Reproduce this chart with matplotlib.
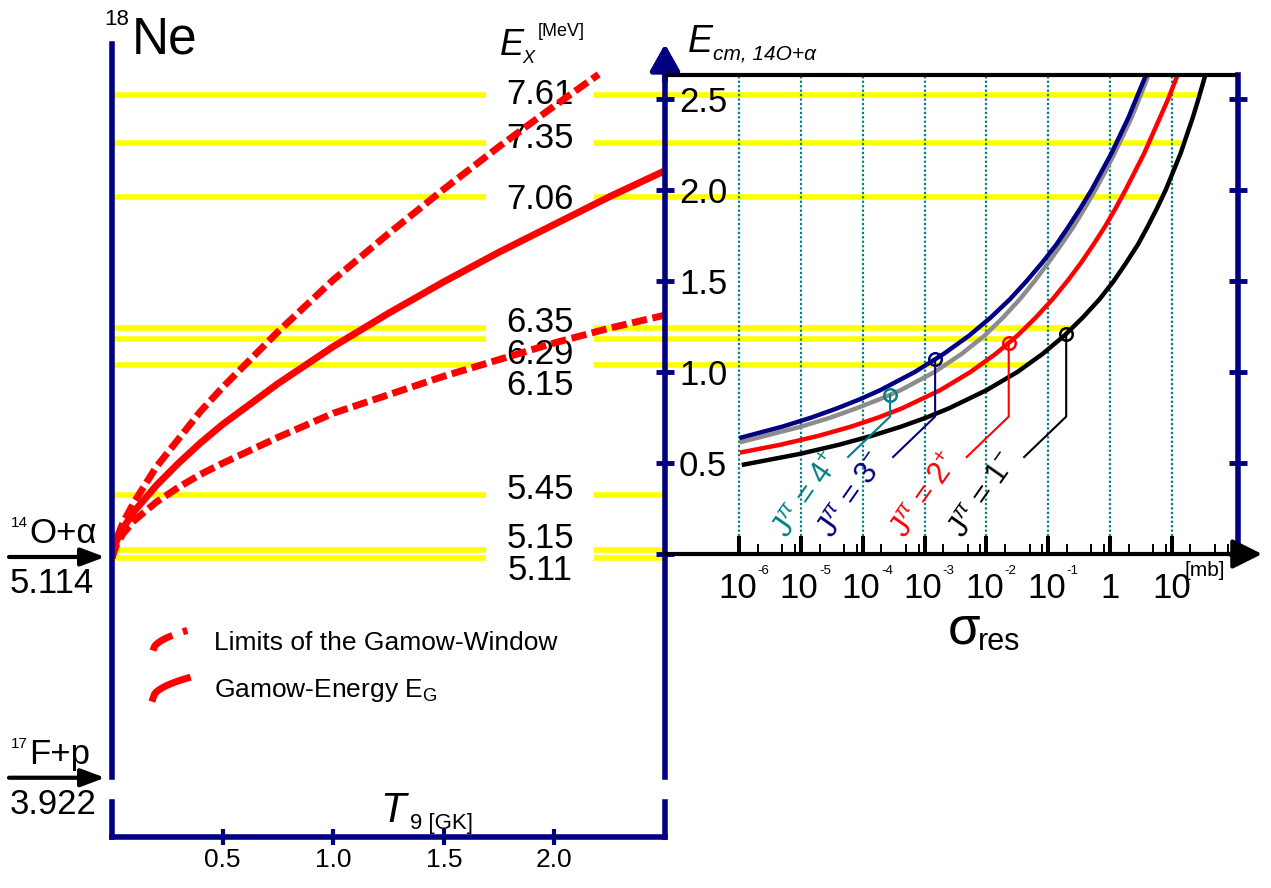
import numpy as np
import matplotlib
matplotlib.use("Agg")
import matplotlib.pyplot as plt
from matplotlib import transforms
from matplotlib.lines import Line2D
from matplotlib.legend_handler import HandlerBase

# ---------------------------------------------------------------- data
# 18Ne excitation energies (MeV)
levels = [7.61, 7.35, 7.06, 6.35, 6.29, 6.15, 5.45, 5.15, 5.11]
# resonance curve that limits each level line in the cross-section panel
level_end_curve = ['1-', '1-', '1-', '1-', '2+', '1-', None, None, None]
alpha_threshold = 5.114   # 14O + alpha
proton_threshold = 3.922  # 17F + p

# Gamow energy and Gamow-window limits versus temperature
t9 = [0, 0.02, 0.05, 0.1, 0.2, 0.3, 0.4, 0.5, 0.75, 1.0, 1.25, 1.5, 1.75, 2.0, 2.25, 2.5]
ex_gamow = [5.11, 5.20, 5.27, 5.36, 5.50, 5.62, 5.73, 5.83, 6.05, 6.25, 6.43, 6.60, 6.76, 6.91, 7.06, 7.20]
ex_lower = [5.11, 5.18, 5.24, 5.31, 5.41, 5.49, 5.56, 5.62, 5.76, 5.89, 5.99, 6.09, 6.18, 6.27, 6.35, 6.42]
t9_upper = [0, 0.02, 0.05, 0.1, 0.2, 0.3, 0.4, 0.5, 0.75, 1.0, 1.25, 1.5, 1.75, 2.0, 2.2]
ex_upper = [5.11, 5.21, 5.30, 5.41, 5.60, 5.75, 5.90, 6.03, 6.33, 6.61, 6.86, 7.10, 7.33, 7.55, 7.72]

# resonant cross sections: E_cm (MeV) and log10(sigma / mb)
e_1m = [0.489, 0.55, 0.60, 0.65, 0.70, 0.75, 0.80, 0.90, 1.0, 1.1, 1.2, 1.3, 1.4,
        1.5, 1.6, 1.7, 1.8, 1.9, 2.0, 2.1, 2.2, 2.3, 2.4, 2.5, 2.63]
lg_sigma_1m = [-5.96, -5.02, -4.39, -3.85, -3.38, -2.97, -2.61, -2.00, -1.50, -1.09,
               -0.74, -0.44, -0.17, 0.06, 0.26, 0.45, 0.61, 0.76, 0.90, 1.02, 1.14,
               1.24, 1.34, 1.43, 1.54]
e_2p = [0.557, 0.60, 0.65, 0.70, 0.75, 0.80, 0.90, 1.0, 1.1, 1.2, 1.3, 1.4, 1.5,
        1.6, 1.7, 1.8, 1.9, 2.0, 2.1, 2.2, 2.3, 2.4, 2.5, 2.63]
lg_sigma_2p = [-5.99, -5.34, -4.71, -4.19, -3.75, -3.37, -2.75, -2.26, -1.85, -1.50,
               -1.20, -0.93, -0.69, -0.47, -0.27, -0.08, 0.09, 0.25, 0.40, 0.55,
               0.68, 0.81, 0.94, 1.09]
e_3m = [0.637, 0.70, 0.75, 0.80, 0.85, 0.90, 1.0, 1.1, 1.2, 1.3, 1.4, 1.5, 1.6,
        1.7, 1.8, 1.9, 2.0, 2.1, 2.2, 2.3, 2.4, 2.5, 2.63]
lg_sigma_3m = [-6.00, -5.30, -4.83, -4.42, -4.05, -3.72, -3.16, -2.69, -2.28, -1.93,
               -1.62, -1.35, -1.10, -0.87, -0.67, -0.48, -0.30, -0.14, 0.02, 0.16,
               0.30, 0.42, 0.58]
e_4p = [0.613, 0.65, 0.70, 0.75, 0.80, 0.85, 0.90, 1.0, 1.1, 1.2, 1.3, 1.4, 1.5,
        1.6, 1.7, 1.8, 1.9, 2.0, 2.1, 2.2, 2.3, 2.4, 2.5, 2.63]
lg_sigma_4p = [-6.00, -5.57, -5.00, -4.52, -4.11, -3.73, -3.39, -2.84, -2.40, -2.03,
               -1.73, -1.46, -1.22, -1.00, -0.79, -0.59, -0.41, -0.24, -0.08, 0.07,
               0.21, 0.35, 0.47, 0.62]

# marked resonance energies (E_cm, MeV) on each curve
e_mark_4p, e_mark_3m, e_mark_2p, e_mark_1m = 0.875, 1.07, 1.16, 1.21
e_cm_max = 2.63

# ticks
t9_ticks = [0.5, 1.0, 1.5, 2.0]
ecm_ticks = [0, 0.5, 1.0, 1.5, 2.0, 2.5]
sigma_decades = [1e-6, 1e-5, 1e-4, 1e-3, 1e-2, 1e-1, 1, 10]
sigma_minor = [m * d for d in sigma_decades for m in (2, 5, 8)]

# ---------------------------------------------------------------- style
NAVY = '#000080'
TEAL = '#008080'
YELLOW = '#ffff00'
RED = '#ff0000'
GRAY = '#8c8c8c'

SANS = 'Liberation Sans'
plt.rcParams['font.family'] = [SANS, 'DejaVu Sans']
plt.rcParams['mathtext.fontset'] = 'custom'
plt.rcParams['mathtext.rm'] = SANS
plt.rcParams['mathtext.it'] = SANS + ':italic'
plt.rcParams['mathtext.bf'] = SANS + ':bold'
plt.rcParams['mathtext.sf'] = SANS

W, H, DPI = 1271, 888, 100
fig = plt.figure(figsize=(W / DPI, H / DPI), dpi=DPI)


def fx(px):
    return px / W


def fy(py):
    return 1 - py / H


def pt(px):
    return px * 72 / DPI


def ftext(px, py, s, **kw):
    kw.setdefault('va', 'baseline')
    return fig.text(fx(px), fy(py), s, **kw)


# panel frames (pixel layout)
L_X0, L_X1, R_X1 = 112, 665, 1238
TOP_L, TOP_R, BOT = 44, 60, 777
T_Y0, T_Y1 = 802, 837

ax_L = fig.add_axes([fx(L_X0), fy(BOT), fx(L_X1) - fx(L_X0), fy(TOP_L) - fy(BOT)])
ax_T = fig.add_axes([fx(L_X0), fy(T_Y1), fx(L_X1) - fx(L_X0), fy(T_Y0) - fy(T_Y1)])
ax_R = fig.add_axes([fx(L_X1), fy(BOT), fx(R_X1) - fx(L_X1), fy(TOP_R) - fy(BOT)])
for ax in (ax_L, ax_T, ax_R):
    ax.patch.set_visible(False)

ex_lim = (3.926, 7.884)
sig_lim = (10 ** -7.202, 10 ** 2.07)
ecm_lim = (-1.2253, 2.7143)

# ---------------------------------------------------------------- left panel: level scheme
ax_L.set_xlim(0, 2.5)
ax_L.set_ylim(*ex_lim)
for s in ('top', 'right', 'bottom'):
    ax_L.spines[s].set_visible(False)
ax_L.spines['left'].set_color(NAVY)
ax_L.spines['left'].set_linewidth(4)
ax_L.spines['left'].set_zorder(5)
ax_L.set_xticks([])
ax_L.set_yticks([])

LABEL_T9, GAP = 1.935, 0.245
ax_L.hlines(levels, 0, LABEL_T9 - GAP, colors=YELLOW, lw=4, zorder=1)
ax_L.hlines(levels, LABEL_T9 + GAP, 2.5, colors=YELLOW, lw=4, zorder=1)

# label centre relative to its line, pixels downwards
level_label_shift = [-3, -7, 0, -9, 12, 17, -8, -15, 10]
for v, sh in zip(levels, level_label_shift):
    ax_L.annotate(f'{v:.2f}', xy=(LABEL_T9, v), xytext=(0, -pt(sh + 12.5)),
                  textcoords='offset points', ha='center', va='baseline',
                  fontsize=25)

ax_L.plot(t9, ex_gamow, color=RED, lw=5, zorder=3, solid_capstyle='butt')
ax_L.plot(t9_upper, ex_upper, color=RED, lw=5, ls=(0, (2.2, 0.8)), zorder=3)
ax_L.plot(t9, ex_lower, color=RED, lw=5, ls=(0, (2.2, 0.8)), zorder=3)

# particle thresholds
for e, sup, name in ((alpha_threshold, '14', 'O+\u03b1'),
                     (proton_threshold, '17', 'F+p')):
    ax_L.annotate('', xy=(0, e), xytext=(fx(9), e),
                  textcoords=('figure fraction', 'data'),
                  arrowprops=dict(arrowstyle='-|>,head_length=0.8,head_width=0.3',
                                  mutation_scale=18, lw=3, color='k',
                                  shrinkA=0, shrinkB=pt(7)),
                  annotation_clip=False)
    ax_L.annotate(sup, xy=(fx(28), e), xycoords=('figure fraction', 'data'),
                  xytext=(0, pt(30)), textcoords='offset points',
                  ha='right', va='baseline', fontsize=11, annotation_clip=False)
    ax_L.annotate(name, xy=(fx(29), e), xycoords=('figure fraction', 'data'),
                  xytext=(0, pt(14)), textcoords='offset points',
                  ha='left', va='baseline', fontsize=25, annotation_clip=False)
    ax_L.annotate(f'{e:.3f}', xy=(fx(10), e), xycoords=('figure fraction', 'data'),
                  xytext=(0, -pt(36)), textcoords='offset points',
                  ha='left', va='baseline', fontsize=25, annotation_clip=False)


class HandlerArc(HandlerBase):
    def create_artists(self, legend, orig_handle, xdescent, ydescent,
                       width, height, fontsize, trans):
        s = np.linspace(0, 1, 25)
        xs = -xdescent + width * s
        ys = -ydescent + height * (0.02 + 0.96 * np.sqrt(s))
        ln = Line2D(xs, ys, color=orig_handle.get_color(),
                    lw=orig_handle.get_linewidth(),
                    ls=orig_handle.get_linestyle(), transform=trans)
        return [ln]


h_win = Line2D([], [], color=RED, lw=5, ls=(0, (2.2, 0.8)))
h_gam = Line2D([], [], color=RED, lw=5)
ax_L.legend([h_win, h_gam],
            ['Limits of the Gamow-Window', 'Gamow-Energy E$_{\\mathrm{G}}$'],
            handler_map={Line2D: HandlerArc()},
            loc='upper left', bbox_to_anchor=(fx(153), fy(630)),
            bbox_transform=fig.transFigure, frameon=False,
            prop=dict(family=SANS, size=19), handlelength=1.3, handleheight=0.85,
            handletextpad=1.0, labelspacing=0.86, borderpad=0, borderaxespad=0)

ftext(129, 25, '18', ha='right', fontsize=16)
ftext(132, 53, 'Ne', ha='left', fontsize=37)
ftext(500, 55, 'E', style='italic', fontsize=26)
ftext(522, 63, 'X', style='italic', fontsize=13)
ftext(538, 36, '[MeV]', fontsize=13)

# ---------------------------------------------------------------- temperature axis
ax_T.set_xlim(0, 2.5)
ax_T.set_ylim(0, 1)
ax_T.spines['top'].set_visible(False)
for s in ('left', 'right', 'bottom'):
    ax_T.spines[s].set_color(NAVY)
    ax_T.spines[s].set_linewidth(4)
ax_T.set_yticks([])
ax_T.set_xticks(t9_ticks)
ax_T.set_xticklabels([f'{v:.1f}' for v in t9_ticks], fontsize=19)
ax_T.tick_params(axis='x', direction='inout', length=12, width=3, color=NAVY, pad=2)
ftext(380, 822, 'T', style='italic', fontsize=30)
ftext(410, 829, '9 [GK]', fontsize=16)

# ---------------------------------------------------------------- right panel: cross sections
ax_R.set_xscale('log')
ax_R.set_xlim(*sig_lim)
ax_R.set_ylim(*ecm_lim)
ax_R.spines['top'].set_visible(False)
ax_R.spines['left'].set_color(NAVY)
ax_R.spines['left'].set_linewidth(4)
ax_R.spines['right'].set_color(NAVY)
ax_R.spines['right'].set_linewidth(4)
ax_R.spines['right'].set_bounds(0, e_cm_max)
ax_R.spines['bottom'].set_position(('data', 0))
ax_R.spines['bottom'].set_color('k')
ax_R.spines['bottom'].set_linewidth(3)

ax_R.vlines(sigma_decades, 0, e_cm_max, colors=TEAL, linestyles=(0, (1, 1)),
            lw=1.6, zorder=1.5)
ax_R.axhline(e_cm_max, color='k', lw=3, zorder=5)

curves = {
    '1-': (e_1m, lg_sigma_1m, 'k', 'k', e_mark_1m, '1$^{-}$'),
    '2+': (e_2p, lg_sigma_2p, RED, RED, e_mark_2p, '2$^{+}$'),
    '3-': (e_3m, lg_sigma_3m, NAVY, NAVY, e_mark_3m, '3$^{-}$'),
    '4+': (e_4p, lg_sigma_4p, GRAY, TEAL, e_mark_4p, '4$^{+}$'),
}

# level lines continued (at the same drawn height) up to the resonance curve
blend = transforms.blended_transform_factory(ax_R.transData, ax_L.transData)
inv_R = ax_R.transData.inverted()
for v, key in zip(levels, level_end_curve):
    if key is None:
        continue
    e, lg = curves[key][0], curves[key][1]
    y_disp = ax_L.transData.transform((0, v))[1]
    e_here = inv_R.transform((ax_R.transData.transform((1, 0))[0], y_disp))[1]
    sig_end = 10 ** np.interp(e_here, e, lg)
    ax_R.plot([sig_lim[0], sig_end], [v, v], transform=blend, color=YELLOW,
              lw=4, zorder=1, solid_capstyle='butt')

KNEE_E, END_E, DX_DEC = 0.755, 0.533, 0.68
for key in ('4+', '3-', '2+', '1-'):
    e, lg, col, acol, e_mark, jp = curves[key]
    sig = [10 ** g for g in lg]
    ax_R.plot(sig, e, color=col, lw=3.2, zorder=4, solid_capstyle='butt',
              solid_joinstyle='round')
    s_mark = 10 ** np.interp(e_mark, e, lg)
    s_end = s_mark * 10 ** -DX_DEC
    ax_R.plot([s_mark, s_mark, s_end], [e_mark, KNEE_E, END_E], color=acol,
              lw=1.5, zorder=4.5)
    ax_R.plot([s_mark], [e_mark], 'o', mfc='none', mec=acol, ms=9, mew=1.8,
              zorder=6)
    ax_R.annotate('J$^{\\pi}$ = ' + jp, xy=(s_end, END_E),
                  xytext=(-pt(40), -pt(39)), textcoords='offset points',
                  rotation=55, rotation_mode='anchor', ha='center', va='center',
                  color=acol, fontsize=22)

ax_R.set_xlim(*sig_lim)
ax_R.set_ylim(*ecm_lim)

ax_R.set_yticks(ecm_ticks)
ax_R.set_yticklabels([''] + [f'{v:.1f}' for v in ecm_ticks[1:]])
ax_R.tick_params(axis='y', which='major', direction='inout', length=13,
                 width=3.5, color=NAVY, left=True, right=True,
                 labelleft=True, labelright=False, pad=-16.6, labelsize=25)
for lab in ax_R.get_yticklabels():
    lab.set_horizontalalignment('left')

ax_R.set_xticks(sigma_decades)
ax_R.set_xticks(sigma_minor, minor=True)
ax_R.tick_params(axis='x', which='major', direction='in', length=13, width=2.9,
                 color='k', labelbottom=False)
ax_R.tick_params(axis='x', which='minor', direction='in', length=7.5, width=1.4,
                 color='k', labelbottom=False)

for v in sigma_decades:
    k = int(round(np.log10(v)))
    if k < 0:
        ax_R.annotate('10', xy=(v, 0), xytext=(-pt(2), -pt(18)),
                      textcoords='offset points', ha='center', va='top',
                      fontsize=25)
        ax_R.annotate(f'{k}', xy=(v, 0), xytext=(pt(18), -pt(11)),
                      textcoords='offset points', ha='left', va='top',
                      fontsize=9.5)
    else:
        ax_R.annotate(f'{10 ** k:g}', xy=(v, 0), xytext=(0, -pt(18)),
                      textcoords='offset points', ha='center', va='top',
                      fontsize=25)

# axis arrows
ax_R.annotate('', xy=(1 + 24 / 573, 0), xycoords=('axes fraction', 'data'),
              xytext=(0.98, 0), textcoords=('axes fraction', 'data'),
              arrowprops=dict(arrowstyle='-|>,head_length=0.9,head_width=0.45',
                              mutation_scale=20, lw=3, color='k',
                              shrinkA=0, shrinkB=0),
              annotation_clip=False)
ax_R.annotate('', xy=(0, 1 + 16 / 717), xycoords='axes fraction',
              xytext=(0, 0.97), textcoords='axes fraction',
              arrowprops=dict(arrowstyle='-|>,head_length=0.8,head_width=0.45',
                              mutation_scale=20, lw=4, color=NAVY,
                              shrinkA=0, shrinkB=0),
              annotation_clip=False)

ftext(1185, 561, '[mb]', va='top', fontsize=15)
ftext(948, 643, '\u03c3', fontsize=38)
ftext(978, 650, 'res', fontsize=22)
ftext(688, 52, 'E', style='italic', fontsize=27)
ftext(713, 60, 'cm, 14O+\u03b1', style='italic', fontsize=15)

fig.savefig('out.png', dpi=DPI)
